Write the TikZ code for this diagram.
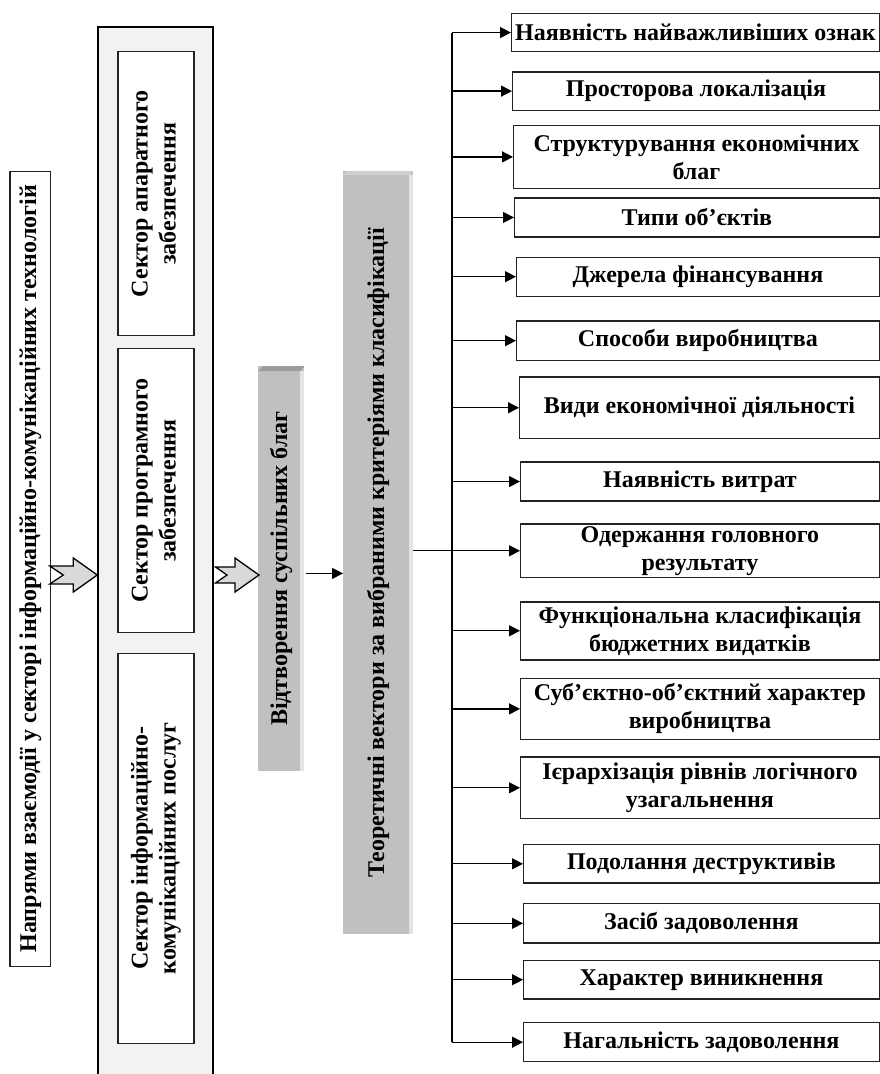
\documentclass[tikz,border=0pt]{standalone}
\usepackage{fontspec}
\setmainfont{Liberation Serif}
\usetikzlibrary{arrows.meta,calc}
\definecolor{outerfill}{HTML}{F2F2F2}
\definecolor{greyface}{HTML}{C0C0C0}
\definecolor{greytopA}{HTML}{9C9C9C}
\definecolor{greytopB}{HTML}{CFCFCF}
\definecolor{greyside}{HTML}{E4E4E4}
\definecolor{blockfill}{HTML}{D9D9D9}
\definecolor{edge}{HTML}{222222}
\begin{document}
\begin{tikzpicture}[x=1pt,y=-1pt,
  txt/.style={font=\bfseries\fontsize{24}{28}\selectfont, align=center},
  rbox/.style={txt, draw=edge, line width=1.4pt, fill=white, inner sep=0pt, anchor=north west},
  vbox/.style={txt, draw=edge, line width=1.3pt, fill=white, inner sep=0pt, anchor=north west},
  outerbox/.style={draw=black, line width=2pt, fill=outerfill, inner sep=0pt, anchor=north west},
  greybox/.style={txt, fill=greyface, inner sep=0pt, anchor=north west},
  arr/.style={line width=1.3pt, draw=black, -{Triangle[length=11pt,width=11pt]}},
  trunkline/.style={line width=1.3pt, draw=black},
  blockarrow/.style={draw=black, line width=1.3pt, fill=blockfill, line join=miter},
]
\useasboundingbox (0,0) rectangle (880,1074);

% left title box
\node[vbox, minimum width=40.7pt, minimum height=795pt] (left) at (9.3,170.5)
  {\rotatebox{90}{Напрями взаємодії у секторі інформаційно-комунікаційних технологій}};

% outer container
\node[outerbox, minimum width=114.2pt, minimum height=1070pt] (outer) at (97.3,25.8) {};

% sectors
\node[vbox, minimum width=76pt, minimum height=284pt] (s1) at (117.3,51)
  {\rotatebox{90}{\begin{tabular}{@{}c@{}}Сектор апаратного\\забезпечення\end{tabular}}};
\node[vbox, minimum width=76pt, minimum height=283.7pt] (s2) at (117.3,348)
  {\rotatebox{90}{\begin{tabular}{@{}c@{}}Сектор програмного\\забезпечення\end{tabular}}};
\node[vbox, minimum width=76pt, minimum height=390.3pt] (s3) at (117.3,652.5)
  {\rotatebox{90}{\begin{tabular}{@{}c@{}}Сектор інформаційно-\\комунікаційних послуг\end{tabular}}};

% grey boxes
\node[greybox, minimum width=46pt, minimum height=405pt] (vid) at (258,366)
  {\rotatebox{90}{Відтворення суспільних благ}};
\fill[greytopA] ([yshift=-5pt]vid.north west) -- ([xshift=5pt]vid.north west) -- (vid.north east) -- ([xshift=-4pt,yshift=-5pt]vid.north east) -- cycle;
\fill[greyside] ([xshift=-4pt,yshift=-5pt]vid.north east) rectangle (vid.south east);

\node[greybox, minimum width=70pt, minimum height=763pt] (teor) at (343,171)
  {\rotatebox{90}{Теоретичні вектори за вибраними критеріями класифікації}};
\fill[greytopB] ([yshift=-4pt]teor.north west) -- ([xshift=4pt]teor.north west) -- (teor.north east) -- ([xshift=-4pt,yshift=-4pt]teor.north east) -- cycle;
\fill[greyside] ([xshift=-4pt,yshift=-4pt]teor.north east) rectangle (teor.south east);

% right boxes
\node[rbox, minimum width=367.5pt, minimum height=38.3pt] (b1) at (511,12.7) {Наявність найважливіших ознак};
\node[rbox, minimum width=366.5pt, minimum height=38.2pt] (b2) at (512,71.3) {Просторова локалізація};
\node[rbox, minimum width=365.5pt, minimum height=63pt] (b3) at (513,124.7) {Структурування економічних\\благ};
\node[rbox, minimum width=364.5pt, minimum height=38.9pt] (b4) at (514,197.3) {Типи об’єктів};
\node[rbox, minimum width=362.5pt, minimum height=39pt] (b5) at (516,256.5) {Джерела фінансування};
\node[rbox, minimum width=362.5pt, minimum height=39.6pt] (b6) at (516,320.2) {Способи виробництва};
\node[rbox, minimum width=359.5pt, minimum height=61.3pt] (b7) at (519,376.4) {Види економічної діяльності};
\node[rbox, minimum width=358.5pt, minimum height=38.9pt] (b8) at (520,461.4) {Наявність витрат};
\node[rbox, minimum width=358.5pt, minimum height=53.4pt] (b9) at (520,523.4) {Одержання головного\\результату};
\node[rbox, minimum width=358.5pt, minimum height=58pt] (b10) at (520,601.1) {Функціональна класифікація\\бюджетних видатків};
\node[rbox, minimum width=358.5pt, minimum height=61.4pt] (b11) at (520,677.5) {Суб’єктно-об’єктний характер\\виробництва};
\node[rbox, minimum width=358.5pt, minimum height=61.8pt] (b12) at (520,756.2) {Ієрархізація рівнів логічного\\узагальнення};
\node[rbox, minimum width=355.5pt, minimum height=38.2pt] (b13) at (523,844) {Подолання деструктивів};
\node[rbox, minimum width=355.5pt, minimum height=39.2pt] (b14) at (523,903) {Засіб задоволення};
\node[rbox, minimum width=355.5pt, minimum height=38.8pt] (b15) at (523,959.6) {Характер виникнення};
\node[rbox, minimum width=355.5pt, minimum height=39pt] (b16) at (523,1022) {Нагальність задоволення};

% block arrows
\coordinate (t1) at (left.east |- 0,575);
\coordinate (h1) at (outer.west |- 0,575);
\draw[blockarrow] ($(t1)+(-1.5,-9)$) -- ($(h1)+(-24,-9)$) -- ($(h1)+(-24,-17)$) -- (h1)
  -- ($(h1)+(-24,17)$) -- ($(h1)+(-24,9)$) -- ($(t1)+(-1.5,9)$) -- ($(t1)+(12,0)$) -- cycle;
\coordinate (t2) at (outer.east |- 0,575);
\coordinate (h2) at (vid.west |- 0,575);
\draw[blockarrow] ($(t2)+(2,-8)$) -- ($(h2)+(-23,-8)$) -- ($(h2)+(-23,-17)$) -- ($(h2)+(1,0)$)
  -- ($(h2)+(-23,17)$) -- ($(h2)+(-23,8)$) -- ($(t2)+(2,8)$) -- ($(t2)+(13.5,0)$) -- cycle;

% vid -> teor
\coordinate (va) at (306,573.4);
\draw[arr] (va) -- (va -| teor.west);

% trunk
\coordinate (tx) at (452,0);
\draw[trunkline] (b1.west -| tx) -- (b16.west -| tx);
\draw[arr] (teor.east |- b9.west) -- (b9.west);
\foreach \b in {b1,b2,b3,b4,b5,b6,b7,b8,b10,b11,b12,b13,b14,b15,b16}{
  \draw[arr] (\b.west -| tx) -- (\b.west);
}
\end{tikzpicture}
\end{document}
